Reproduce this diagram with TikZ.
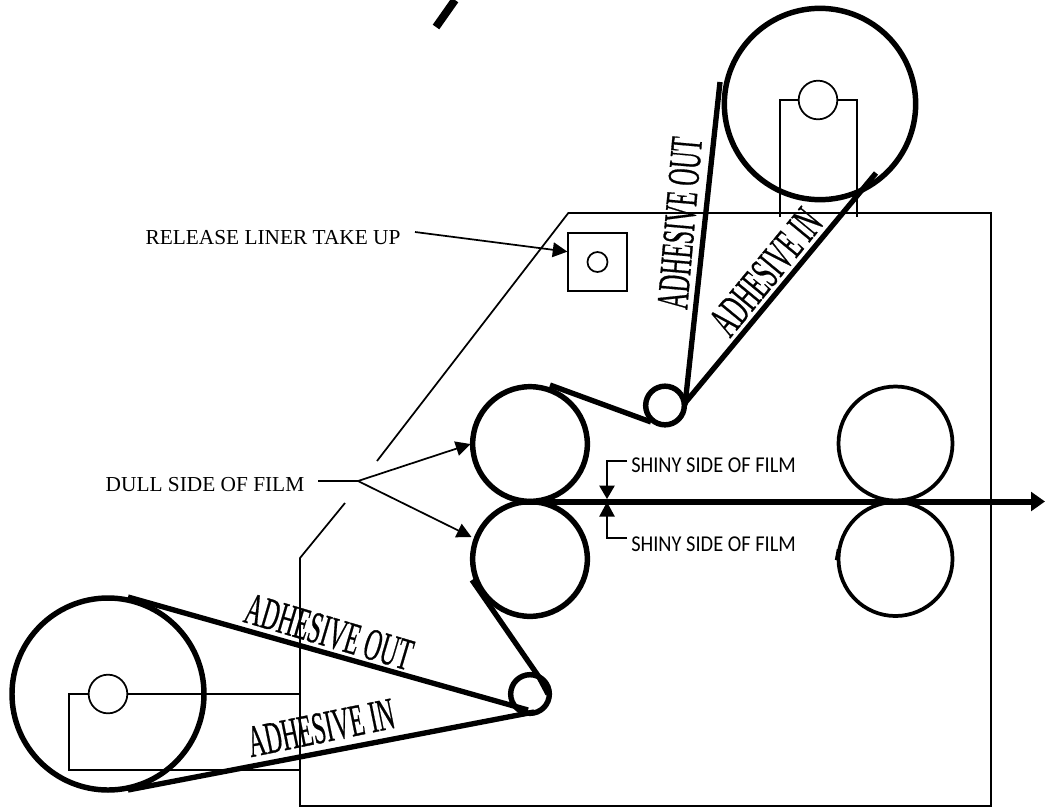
\documentclass[tikz,border=0pt]{standalone}
\usepackage{fontspec}
\setmainfont{Liberation Serif}
\newfontfamily\shinyfont{Carlito}
\newfontfamily\beltfont[FakeBold=0.7]{Liberation Serif}
\usetikzlibrary{arrows.meta}
\newcommand{\narrowtext}[1]{\scalebox{0.52}[1]{#1}}
\newcommand{\shinytext}{\scalebox{0.9}[1]{SHINY SIDE OF FILM}}
\begin{document}
\begin{tikzpicture}[x=0.75pt,y=-0.75pt,
  roller/.style={draw,circle,inner sep=0pt,line width=4.1pt},
  idler/.style={draw,circle,inner sep=0pt,line width=2.8pt,minimum size=85.5pt},
  hub/.style={draw,circle,inner sep=0pt,outer sep=0pt,line width=1.3pt},
  belt/.style={line width=4pt},
  frameline/.style={line width=1.3pt},
  pointer/.style={line width=1.3pt,-{Triangle[length=11pt,width=11pt]}},
  label/.style={font=\fontsize{16}{18}\selectfont,inner sep=0pt},
  shiny/.style={font=\fontsize{17}{18}\selectfont\shinyfont,inner sep=0pt},
  belttext/.style={font=\fontsize{34}{34}\selectfont\beltfont,inner sep=0pt}]
\useasboundingbox (0,0) rectangle (1045,808);

\draw[frameline] (345,503) -- (300,558) -- (300,806) -- (991,806) -- (991,213) -- (568.3,213) -- (377,461);

\node[hub,minimum size=29pt] (hubLeft) at (108,694) {};
\node[hub,minimum size=29pt] (hubTop) at (818,100) {};
\draw[frameline] (hubLeft.west) -- (69,694) -- (69,770) -- (300,770);
\draw[frameline] (hubLeft.east) -- (300,694);
\draw[frameline] (hubTop.west) -- (780,100) -- (780,217);
\draw[frameline] (hubTop.east) -- (857,100) -- (857,217);

\node[roller,minimum size=144pt] (reelLeft) at (108,694) {};
\node[roller,minimum size=143.5pt] (reelTop) at (820,104) {};
\node[roller,minimum size=86pt] (nipUpper) at (530,444) {};
\node[roller,minimum size=86pt] (nipLower) at (530,559) {};
\node[idler] (nipUpperRight) at (895.5,443.5) {};
\node[idler] (nipLowerRight) at (895.5,559) {};
\node[roller,minimum size=29pt] (guideLower) at (530,694) {};
\node[roller,minimum size=29pt] (guideUpper) at (665,405.5) {};

\node[draw,frameline,minimum size=43.8pt,inner sep=0pt] (linerBox) at (597.5,262) {};
\node[hub,minimum size=15pt] (linerHub) at (597.5,262) {};

\coordinate (outLeftEnd) at (128,597);
\coordinate (outLeftGuide) at (528,710);
\coordinate (inLeftEnd) at (128,790);
\coordinate (inLeftGuide) at (534,712);
\coordinate (nipLowerEnd) at (472,580);
\coordinate (lowerGuideTop) at (539,677);
\coordinate (lowerGuideSide) at (548,694);
\coordinate (nipUpperEnd) at (550,385);
\coordinate (upperGuideLow) at (651,422);
\coordinate (outTopEnd) at (720,82);
\coordinate (outTopGuide) at (685,405);
\coordinate (inTopEnd) at (876,173);
\coordinate (inTopGuide) at (685,403);
\coordinate (filmStart) at (516,501.5);
\coordinate (filmEnd) at (1045,501.5);
\coordinate (tornStart) at (436,27);
\coordinate (tornEnd) at (455,0);
\coordinate (notchStart) at (836,560);
\coordinate (notchEnd) at (838,549);

\draw[belt] (outLeftEnd) -- (outLeftGuide);
\draw[belt] (inLeftEnd) -- (inLeftGuide);
\draw[belt] (nipLowerEnd) -- (lowerGuideTop) -- (lowerGuideSide);
\draw[belt] (nipUpperEnd) -- (upperGuideLow);
\draw[belt] (outTopEnd) -- (outTopGuide);
\draw[belt] (inTopEnd) -- (inTopGuide);
\draw[line width=6pt] (tornStart) -- (tornEnd);
\draw[line width=1.8pt] (notchStart) -- (notchEnd);
\draw[line width=4.5pt,-{Triangle[length=10.5pt,width=14pt]}] (filmStart) -- (filmEnd);

\node[label] (releaseLabel) at (273,237.5) {RELEASE LINER TAKE UP};
\coordinate (releaseStart) at (415,232);
\draw[pointer] (releaseStart) -- (linerBox.161);

\node[label] (dullLabel) at (205,484.5) {DULL SIDE OF FILM};
\coordinate (dullStart) at (318,481);
\coordinate (dullFork) at (358,481);
\coordinate (dullUpperTip) at (470.5,444);
\coordinate (dullLowerTip) at (471.5,537);
\draw[frameline] (dullStart) -- (dullFork);
\draw[pointer] (dullFork) -- (dullUpperTip);
\draw[pointer] (dullFork) -- (dullLowerTip);

\node[shiny,anchor=west] (shinyUpper) at (631,465) {\shinytext};
\node[shiny,anchor=west] (shinyLower) at (631,544) {\shinytext};
\coordinate (shinyUpperCorner) at (607,461);
\coordinate (shinyLowerCorner) at (607,538);
\coordinate (shinyUpperStart) at (627,461);
\coordinate (shinyLowerStart) at (627,538);
\coordinate (shinyUpperTip) at (607,499);
\coordinate (shinyLowerTip) at (607,502);
\draw[line width=0.9pt,-{Triangle[length=10pt,width=11.5pt]}] (shinyUpperStart) -- (shinyUpperCorner) -- (shinyUpperTip);
\draw[frameline,-{Triangle[length=11pt,width=11.5pt]}] (shinyLowerStart) -- (shinyLowerCorner) -- (shinyLowerTip);

\node[belttext,rotate=-16.5] (outLeftText) at (329,632) {\narrowtext{ADHESIVE OUT}};
\node[belttext,rotate=11.5] (inLeftText) at (321,728) {\narrowtext{ADHESIVE IN}};
\node[belttext,rotate=85] (outTopText) at (680,223) {\narrowtext{ADHESIVE OUT}};
\node[belttext,rotate=50.5] (inTopText) at (766,272) {\narrowtext{ADHESIVE IN}};
\end{tikzpicture}
\end{document}
